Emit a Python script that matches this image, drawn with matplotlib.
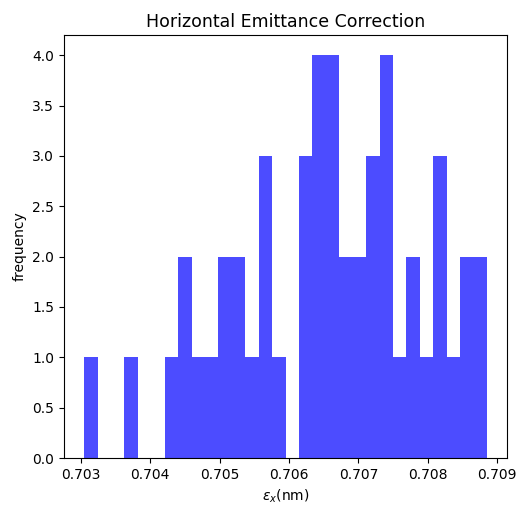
import numpy as np
import matplotlib
matplotlib.use("Agg")
import matplotlib.pyplot as plt

# Histogram of horizontal emittance after correction (30 bins over the sample range)
emit_min = 0.70305
emit_max = 0.70885
bin_counts = [1, 0, 0, 1, 0, 0, 1, 2, 1, 1,
              2, 2, 1, 3, 1, 0, 3, 4, 4, 2,
              2, 3, 4, 1, 2, 1, 3, 1, 2, 2]

title = "Horizontal Emittance Correction"
xlabel = r"$\epsilon_x$(nm)"
ylabel = "frequency"

edges = np.linspace(emit_min, emit_max, len(bin_counts) + 1)
centers = 0.5 * (edges[:-1] + edges[1:])

fig, ax = plt.subplots(figsize=(5.26, 5.05), dpi=100)
fig.subplots_adjust(left=0.1217, right=0.964, top=0.9307, bottom=0.093)

ax.hist(centers, bins=edges, weights=bin_counts, color="blue", alpha=0.7)
ax.set_title(title, fontsize=12.5)
ax.set_xlabel(xlabel)
ax.set_ylabel(ylabel)

fig.savefig("out.png", dpi=100)
